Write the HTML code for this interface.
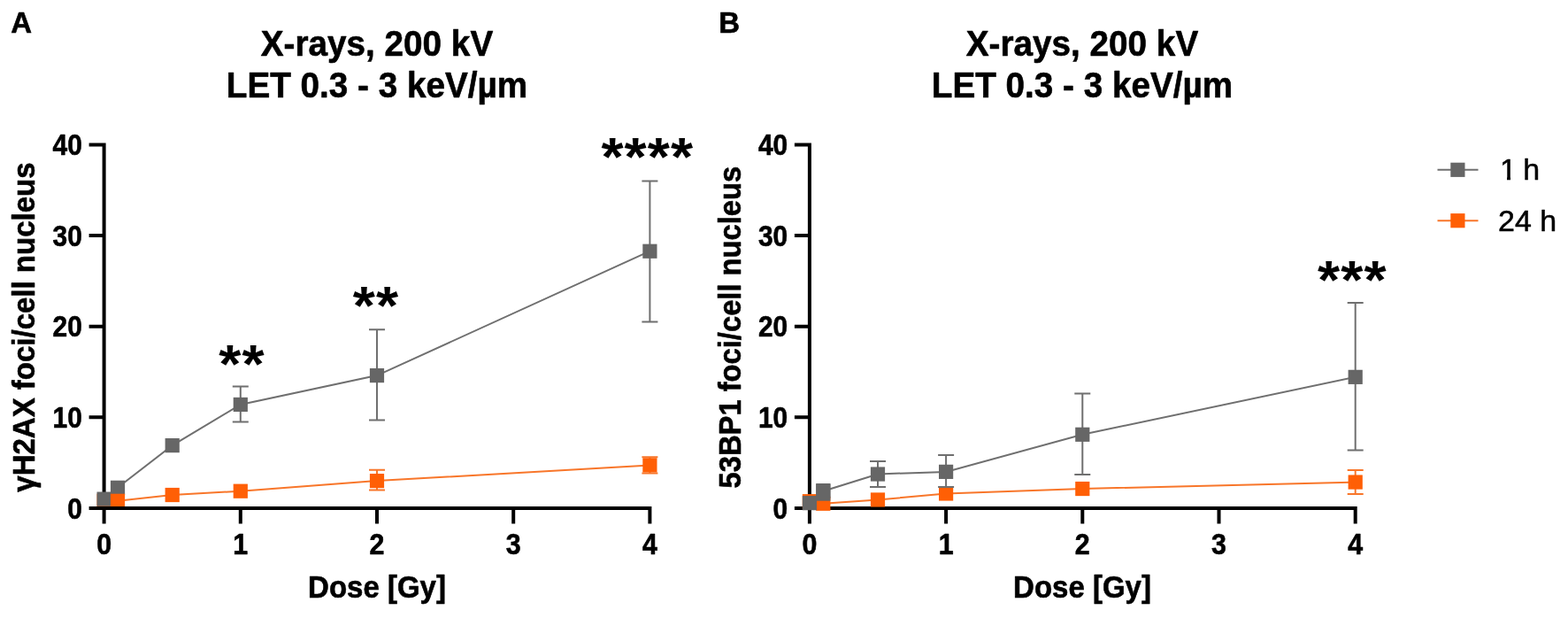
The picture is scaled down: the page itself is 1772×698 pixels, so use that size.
<!DOCTYPE html>
<html lang="en"><head><meta charset="utf-8"><title>X-rays foci dose response</title>
<style>
html,body{margin:0;padding:0;background:#fff;}
body{width:1772px;height:698px;overflow:hidden;}
svg{display:block;}
text{font-family:"Liberation Sans",Arial,Helvetica,sans-serif;fill:#000;stroke:#000;stroke-width:0.6px;stroke-linejoin:round;}
.tk{font-size:32px;font-weight:bold;}
.lb{font-size:33px;font-weight:bold;}
.tt{font-size:39px;font-weight:bold;}
.pl{font-size:32px;font-weight:bold;}
.st{font-size:64.5px;font-weight:bold;letter-spacing:1.1px;stroke:none;}
.lg{font-size:34px;stroke-width:0.5px;}
</style></head><body>
<svg width="1772" height="698" viewBox="0 0 1772 698">
<rect width="1772" height="698" fill="#fff"/>
<path d="M117.6,161.5V591.4M100.6,471.3H117.6M100.6,368.7H117.6M100.6,266.1H117.6M100.6,163.5H117.6" fill="none" stroke="#000" stroke-width="4"/>
<polyline points="117.6,563.6 133.0,550.8 194.7,503.1 271.8,456.9 426.0,424.1 734.4,283.7" fill="none" stroke="#6f6f6f" stroke-width="2"/>
<polyline points="117.6,565.8 133.0,565.8 194.7,559.0 271.8,554.7 426.0,543.1 734.4,525.4" fill="none" stroke="#f8762a" stroke-width="2"/>
<rect x="109.50" y="557.69" width="16.2" height="16.2" fill="#ff5f05"/>
<rect x="109.50" y="555.54" width="16.2" height="16.2" fill="#666666"/>
<rect x="124.92" y="542.71" width="16.2" height="16.2" fill="#666666"/>
<rect x="186.60" y="495.01" width="16.2" height="16.2" fill="#666666"/>
<path d="M271.8,436.4V476.4M262.8,436.4h18M262.8,476.4h18" fill="none" stroke="#6f6f6f" stroke-width="2"/>
<rect x="263.70" y="448.84" width="16.2" height="16.2" fill="#666666"/>
<path d="M426.0,372.3V474.4M417.0,372.3h18M417.0,474.4h18" fill="none" stroke="#6f6f6f" stroke-width="2"/>
<rect x="417.90" y="416.00" width="16.2" height="16.2" fill="#666666"/>
<path d="M734.4,204.5V363.6M725.4,204.5h18M725.4,363.6h18" fill="none" stroke="#6f6f6f" stroke-width="2"/>
<rect x="726.30" y="275.65" width="16.2" height="16.2" fill="#666666"/>
<rect x="124.92" y="557.69" width="16.2" height="16.2" fill="#ff5f05"/>
<rect x="186.60" y="550.92" width="16.2" height="16.2" fill="#ff5f05"/>
<rect x="263.70" y="546.61" width="16.2" height="16.2" fill="#ff5f05"/>
<path d="M426.0,530.8V553.4M417.0,530.8h18M417.0,553.4h18" fill="none" stroke="#f8762a" stroke-width="2"/>
<rect x="417.90" y="535.02" width="16.2" height="16.2" fill="#ff5f05"/>
<path d="M734.4,516.2V534.5M725.4,516.2h18M725.4,534.5h18" fill="none" stroke="#f8762a" stroke-width="2"/>
<rect x="726.30" y="517.27" width="16.2" height="16.2" fill="#ff5f05"/>
<path d="M100.6,573.9H736.4M271.8,573.9V591.4M426.0,573.9V591.4M580.2,573.9V591.4M734.4,573.9V591.4" fill="none" stroke="#000" stroke-width="4"/>
<text class="tk" transform="translate(92.9,585.5) scale(0.935,1.03)" text-anchor="end">0</text>
<text class="tk" transform="translate(92.9,482.9) scale(0.935,1.03)" text-anchor="end">10</text>
<text class="tk" transform="translate(92.9,380.3) scale(0.935,1.03)" text-anchor="end">20</text>
<text class="tk" transform="translate(92.9,277.7) scale(0.935,1.03)" text-anchor="end">30</text>
<text class="tk" transform="translate(92.9,175.1) scale(0.935,1.03)" text-anchor="end">40</text>
<text class="tk" transform="translate(117.6,625.5) scale(0.95,1.015)" text-anchor="middle">0</text>
<text class="tk" transform="translate(271.8,625.5) scale(0.95,1.015)" text-anchor="middle">1</text>
<text class="tk" transform="translate(426.0,625.5) scale(0.95,1.015)" text-anchor="middle">2</text>
<text class="tk" transform="translate(580.2,625.5) scale(0.95,1.015)" text-anchor="middle">3</text>
<text class="tk" transform="translate(734.4,625.5) scale(0.95,1.015)" text-anchor="middle">4</text>
<text class="lb" transform="translate(426.0,675.0) scale(1.0,1.05)" text-anchor="middle">Dose [Gy]</text>
<text class="lb" transform="translate(39.4,369.6) rotate(-90) scale(1.0,1.05)" text-anchor="middle">γH2AX foci/cell nucleus</text>
<text class="tt" transform="translate(426.0,63.3) scale(0.992,1.05)" text-anchor="middle">X-rays, 200 kV</text>
<text class="tt" transform="translate(426.0,110.1) scale(0.992,1.05)" text-anchor="middle">LET 0.3 - 3 keV/µm</text>
<text class="pl" transform="translate(12.3,37.4) scale(1.03,1.05)">A</text>
<text class="st" transform="translate(273.5,431.8) scale(1,0.96)" text-anchor="middle">**</text>
<text class="st" transform="translate(425.0,365.6) scale(1,0.96)" text-anchor="middle">**</text>
<text class="st" transform="translate(731.8,198.0) scale(1,0.96)" text-anchor="middle">****</text>
<path d="M914.9,161.5V591.4M897.9,471.3H914.9M897.9,368.7H914.9M897.9,266.1H914.9M897.9,163.5H914.9" fill="none" stroke="#000" stroke-width="4"/><path d="M897.9,573.9H1533.7M1069.1,573.9V591.4M1223.3,573.9V591.4M1377.5,573.9V591.4M1531.7,573.9V591.4" fill="none" stroke="#000" stroke-width="4"/>
<polyline points="914.9,566.2 930.3,568.8 992.0,564.5 1069.1,557.5 1223.3,552.0 1531.7,544.6" fill="none" stroke="#f8762a" stroke-width="2"/>
<polyline points="914.9,568.2 930.3,554.7 992.0,535.5 1069.1,532.9 1223.3,490.8 1531.7,425.8" fill="none" stroke="#6f6f6f" stroke-width="2"/>
<rect x="906.80" y="558.10" width="16.2" height="16.2" fill="#ff5f05"/>
<rect x="922.22" y="560.67" width="16.2" height="16.2" fill="#ff5f05"/>
<rect x="983.90" y="556.36" width="16.2" height="16.2" fill="#ff5f05"/>
<rect x="1061.00" y="549.38" width="16.2" height="16.2" fill="#ff5f05"/>
<rect x="1215.20" y="543.95" width="16.2" height="16.2" fill="#ff5f05"/>
<path d="M1531.7,531.1V558.0M1522.7,531.1h18M1522.7,558.0h18" fill="none" stroke="#f8762a" stroke-width="2"/>
<rect x="1523.60" y="536.46" width="16.2" height="16.2" fill="#ff5f05"/>
<rect x="906.80" y="560.05" width="16.2" height="16.2" fill="#666666"/>
<rect x="922.22" y="546.61" width="16.2" height="16.2" fill="#666666"/>
<path d="M992.0,521.1V550.0M983.0,521.1h18M983.0,550.0h18" fill="none" stroke="#6f6f6f" stroke-width="2"/>
<rect x="983.90" y="527.43" width="16.2" height="16.2" fill="#666666"/>
<path d="M1069.1,514.1V550.0M1060.1,514.1h18M1060.1,550.0h18" fill="none" stroke="#6f6f6f" stroke-width="2"/>
<rect x="1061.00" y="524.76" width="16.2" height="16.2" fill="#666666"/>
<path d="M1223.3,444.6V535.9M1214.3,444.6h18M1214.3,535.9h18" fill="none" stroke="#6f6f6f" stroke-width="2"/>
<rect x="1215.20" y="482.69" width="16.2" height="16.2" fill="#666666"/>
<path d="M1531.7,342.0V508.5M1522.7,342.0h18M1522.7,508.5h18" fill="none" stroke="#6f6f6f" stroke-width="2"/>
<rect x="1523.60" y="417.75" width="16.2" height="16.2" fill="#666666"/>
<text class="tk" transform="translate(890.2,585.5) scale(0.935,1.03)" text-anchor="end">0</text>
<text class="tk" transform="translate(890.2,482.9) scale(0.935,1.03)" text-anchor="end">10</text>
<text class="tk" transform="translate(890.2,380.3) scale(0.935,1.03)" text-anchor="end">20</text>
<text class="tk" transform="translate(890.2,277.7) scale(0.935,1.03)" text-anchor="end">30</text>
<text class="tk" transform="translate(890.2,175.1) scale(0.935,1.03)" text-anchor="end">40</text>
<text class="tk" transform="translate(914.9,625.5) scale(0.95,1.015)" text-anchor="middle">0</text>
<text class="tk" transform="translate(1069.1,625.5) scale(0.95,1.015)" text-anchor="middle">1</text>
<text class="tk" transform="translate(1223.3,625.5) scale(0.95,1.015)" text-anchor="middle">2</text>
<text class="tk" transform="translate(1377.5,625.5) scale(0.95,1.015)" text-anchor="middle">3</text>
<text class="tk" transform="translate(1531.7,625.5) scale(0.95,1.015)" text-anchor="middle">4</text>
<text class="lb" transform="translate(1223.0,675.0) scale(1.0,1.05)" text-anchor="middle">Dose [Gy]</text>
<text class="lb" transform="translate(836.7,369.6) rotate(-90) scale(0.992,1.05)" text-anchor="middle">53BP1 foci/cell nucleus</text>
<text class="tt" transform="translate(1223.0,63.3) scale(0.992,1.05)" text-anchor="middle">X-rays, 200 kV</text>
<text class="tt" transform="translate(1223.0,110.1) scale(0.992,1.05)" text-anchor="middle">LET 0.3 - 3 keV/µm</text>
<text class="pl" transform="translate(812.3,37.4) scale(1.03,1.05)">B</text>
<text class="st" transform="translate(1528.4,337.4) scale(1,0.96)" text-anchor="middle">***</text>
<rect x="922.22" y="546" width="16.2" height="19.7" fill="#666666"/>
<path d="M1624.5,191.8H1670.5" stroke="#6f6f6f" stroke-width="2"/><rect x="1639.3000000000002" y="183.70000000000002" width="16.2" height="16.2" fill="#666666"/>
<path d="M1624.5,249.2H1670.5" stroke="#f8762a" stroke-width="2"/><rect x="1639.3000000000002" y="241.1" width="16.2" height="16.2" fill="#ff5f05"/>
<text class="lg" transform="translate(1693.0,203.0) scale(1.0,0.97)"><tspan dx="2">1</tspan><tspan dx="-2"> h</tspan></text>
<path d="M1694,199h9v6h-9zM1707,199h8v6h-8z" fill="#fff" shape-rendering="crispEdges"/>
<text class="lg" transform="translate(1693.0,260.9) scale(1.0,0.97)">24 h</text>
</svg>
</body></html>
